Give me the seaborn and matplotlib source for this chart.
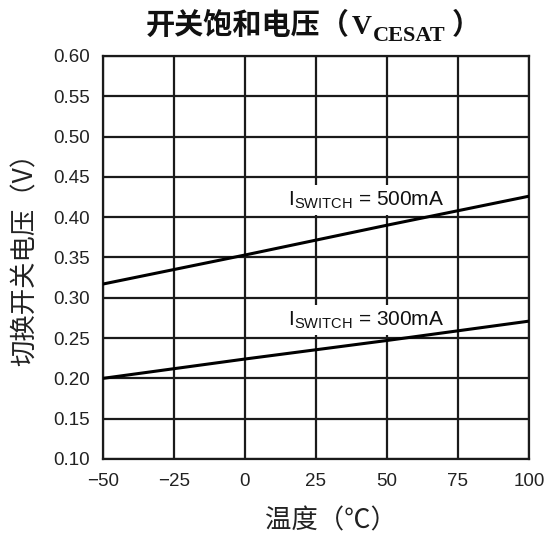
import matplotlib
matplotlib.use("Agg")
import matplotlib.pyplot as plt
import seaborn as sns
import pandas as pd

# Saturation voltage vs. temperature for two switch currents
temps = [-50, 0, 50, 100]
v_500ma = [0.317, 0.353, 0.390, 0.426]
v_300ma = [0.200, 0.224, 0.247, 0.271]
series_labels = ["500mA", "300mA"]
x_ticks = [-50, -25, 0, 25, 50, 75, 100]
y_ticks = [0.10, 0.15, 0.20, 0.25, 0.30, 0.35, 0.40, 0.45, 0.50, 0.55, 0.60]

sns.set_theme(style="white")
plt.rcParams["font.family"] = ["Noto Sans CJK SC", "DejaVu Sans"]
plt.rcParams["mathtext.fontset"] = "custom"
plt.rcParams["mathtext.rm"] = "Liberation Sans"
plt.rcParams["axes.unicode_minus"] = True

df = pd.DataFrame({
    "temp": temps * 2,
    "v": v_500ma + v_300ma,
    "current": [series_labels[0]] * len(temps) + [series_labels[1]] * len(temps),
})

fig = plt.figure(figsize=(5.47, 5.41), dpi=100)
ax = fig.add_axes([0.188, 0.1516, 0.779, 0.745])

sns.lineplot(data=df, x="temp", y="v", units="current", estimator=None,
             color="black", linewidth=2.2, ax=ax, legend=False, zorder=4)

ax.set_xlim(-50, 100)
ax.set_ylim(0.10, 0.60)
ax.set_xticks(x_ticks)
ax.set_yticks(y_ticks)
ax.set_xticklabels([str(t).replace("-", "\u2212") for t in x_ticks],
                   fontfamily="Liberation Sans", fontsize=13.5)
ax.set_yticklabels([f"{t:.2f}" for t in y_ticks],
                   fontfamily="Liberation Sans", fontsize=13.5)
ax.tick_params(axis="x", length=0, pad=10, colors="#222222")
ax.tick_params(axis="y", length=0, pad=9, colors="#222222")
ax.grid(True, color="#1a1a1a", linewidth=1.6)
ax.set_axisbelow(True)
for s in ax.spines.values():
    s.set_color("#1a1a1a")
    s.set_linewidth(1.6)

ax.set_xlabel("温度（℃）", fontsize=19, color="#222222")
ax.xaxis.set_label_coords(0.536, -0.12)
ax.set_ylabel("切换开关电压（V）", fontsize=19, color="#222222")
ax.yaxis.set_label_coords(-0.150, 0.51)

# Curve labels
label_kw = dict(fontfamily="Liberation Sans", fontsize=15, color="#111111",
                ha="left", va="baseline", zorder=3,
                bbox=dict(facecolor="white", edgecolor="none", pad=3))
ax.text(15.1, 0.415, r"I$_{\rm SWITCH}$ = " + series_labels[0], **label_kw)
ax.text(15.1, 0.266, r"I$_{\rm SWITCH}$ = " + series_labels[1], **label_kw)

# Title assembled from pieces so the subscript sits below the baseline
renderer = fig.canvas.get_renderer()
title_parts = [
    # text, style, vertical offset, gap after (figure fraction)
    ("开关饱和电压（", dict(fontsize=21, fontweight="bold",
                      fontfamily=["Noto Sans CJK SC"]), 0.0, 0.004),
    ("V", dict(fontsize=20, fontweight="bold",
               fontfamily=["Liberation Serif"]), 0.0, 0.002),
    ("CESAT", dict(fontsize=16, fontweight="bold",
                   fontfamily=["Liberation Serif"]), -0.012, 0.012),
    ("）", dict(fontsize=21, fontweight="bold",
               fontfamily=["Noto Sans CJK SC"]), 0.0, 0.0),
]
x_pos = 0.266
y_base = 0.937
for text, kw, dy, dx_after in title_parts:
    t = fig.text(x_pos, y_base + dy, text, ha="left", va="baseline",
                 color="#111111", **kw)
    bb = t.get_window_extent(renderer)
    x_pos += bb.width / fig.bbox.width + dx_after

fig.savefig("out.png", dpi=100, facecolor="white")
